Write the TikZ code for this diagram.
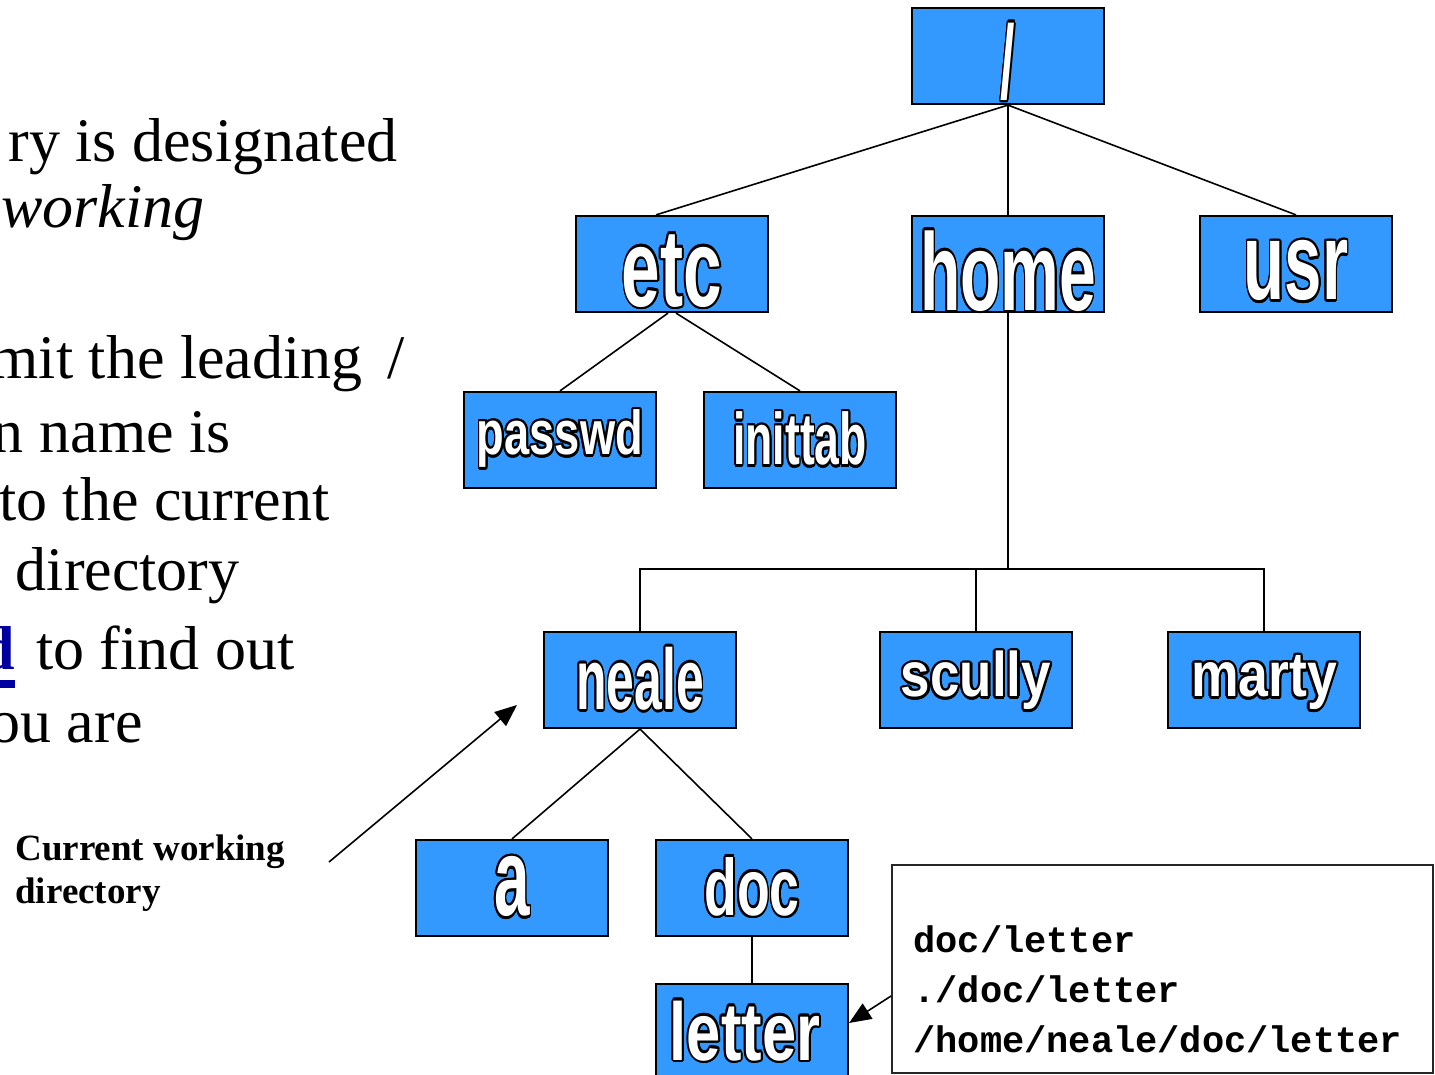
\documentclass[tikz,border=0pt]{standalone}
\usepackage{fontspec}
\usepackage{graphicx}
\usepackage{contour}
\usetikzlibrary{arrows.meta}
\setmainfont{Liberation Serif}
\setmonofont{Liberation Mono}
\newfontfamily\boxfont{Liberation Sans}
\definecolor{boxblue}{HTML}{3399FF}
\definecolor{linkblue}{HTML}{0000A0}
\contourlength{1.3pt}
\newcommand\blab[4][0pt]{\raisebox{#1}[\height][\depth]{\scalebox{#3}[1]{\fontsize{#2}{#2}\selectfont\boxfont\bfseries\color{white}\contour{black}{#4}}}}
\tikzset{
  dirbox/.style={draw=black, line width=1.1pt, fill=boxblue, minimum width=96pt, minimum height=48pt, inner sep=0pt},
  conn/.style={draw=black, line width=0.8pt},
  arr/.style={draw=black, line width=0.8pt, -{Triangle[length=11pt,width=9pt]}},
  lefttxt/.style={anchor=base east, inner sep=0pt, font=\fontsize{31}{31}\selectfont},
  monotxt/.style={anchor=base west, inner sep=0pt, font=\fontsize{18.5}{18.5}\selectfont\ttfamily\bfseries},
  captxt/.style={anchor=base west, inner sep=0pt, font=\fontsize{18.5}{18.5}\selectfont\bfseries},
}
\begin{document}
\begin{tikzpicture}[x=0.5pt,y=-0.5pt]
\useasboundingbox (0,0) rectangle (1435,1075);
\clip (0,0) rectangle (1435,1075);
\fill[white] (0,0) rectangle (1435,1075);

% left text
\node[lefttxt] (t1) at (398,162) {ry is designated};
\node[lefttxt] (t2) at (205,228) {\itshape working};
\node[lefttxt] (t3) at (405,379) {mit the leading\hspace{0.4em}/};
\node[lefttxt] (t4) at (231,452) {n name is};
\node[lefttxt] (t5) at (330,520) {to the current};
\node[lefttxt] (t6) at (240,590) {directory};
\node[lefttxt] (t7) at (295,669) {{\color{linkblue}\bfseries d\llap{\rule[-0.3em]{0.6em}{0.12em}}}\hspace{0.1em} to find out};
\node[lefttxt] (t8) at (143,742) {ou are};

% caption
\node[captxt] (cap1) at (15,860) {Current working};
\node[captxt] (cap2) at (15,903) {directory};

% tree boxes
\node[dirbox] (root) at (1008,56) {\blab[-3.5pt]{52}{0.5}{/}};
\node[dirbox] (etc) at (672,264) {\blab[-4pt]{55}{0.63}{etc}};
\node[dirbox] (home) at (1008,264) {\blab[-4pt]{55}{0.6}{home}};
\node[dirbox] (usr) at (1296,264) {\blab[-4pt]{55}{0.61}{usr}};
\node[dirbox] (passwd) at (560,440) {\blab{31}{0.73}{passwd}};
\node[dirbox] (inittab) at (800,440) {\blab{36.5}{0.61}{inittab}};
\node[dirbox] (neale) at (640,680) {\blab{43}{0.58}{neale}};
\node[dirbox] (scully) at (976,680) {\blab[-1pt]{31.5}{0.84}{scully}};
\node[dirbox] (marty) at (1264,680) {\blab[-2pt]{31.5}{0.85}{marty}};
\node[dirbox] (a) at (512,888) {\blab{55}{0.58}{a}};
\node[dirbox] (doc) at (752,888) {\blab{40}{0.67}{doc}};
\node[dirbox] (letter) at (752,1032) {\hspace*{-7pt}\blab{41}{0.75}{letter}};

% connectors
\draw[conn] (root.south) -- ([xshift=-8pt]etc.north);
\draw[conn] (root.south) -- (home.north);
\draw[conn] (root.south) -- (usr.north);
\draw[conn] ([xshift=-2pt]etc.south) -- (passwd.north);
\draw[conn] ([xshift=2pt]etc.south) -- (inittab.north);
\coordinate (bus) at (1008,569);
\draw[conn] (home.south) -- (bus);
\draw[conn] (neale.north) -- (neale.north |- bus) -- (marty.north |- bus) -- (marty.north);
\draw[conn] (scully.north) -- (scully.north |- bus);
\draw[conn] (neale.south) -- (a.north);
\draw[conn] (neale.south) -- (doc.north);
\draw[conn] (doc.south) -- (letter.north);

% current working directory arrow
\coordinate (cwdtail) at (329,862);
\coordinate (cwdtip) at (517,705);
\draw[arr] (cwdtail) -- (cwdtip);

% path box
\node[draw=black!85, line width=0.9pt, fill=white, minimum width=270.5pt, minimum height=104pt, inner sep=0pt] (pbox) at (1162.5,969) {};
\node[monotxt] (p1) at (913,952) {doc/letter};
\node[monotxt] (p2) at (913,1002) {./doc/letter};
\node[monotxt] (p3) at (913,1052) {/home/neale/doc/letter};
\draw[arr] ([yshift=-13.5pt]pbox.west) -- ([yshift=4.5pt]letter.east);
\end{tikzpicture}
\end{document}
